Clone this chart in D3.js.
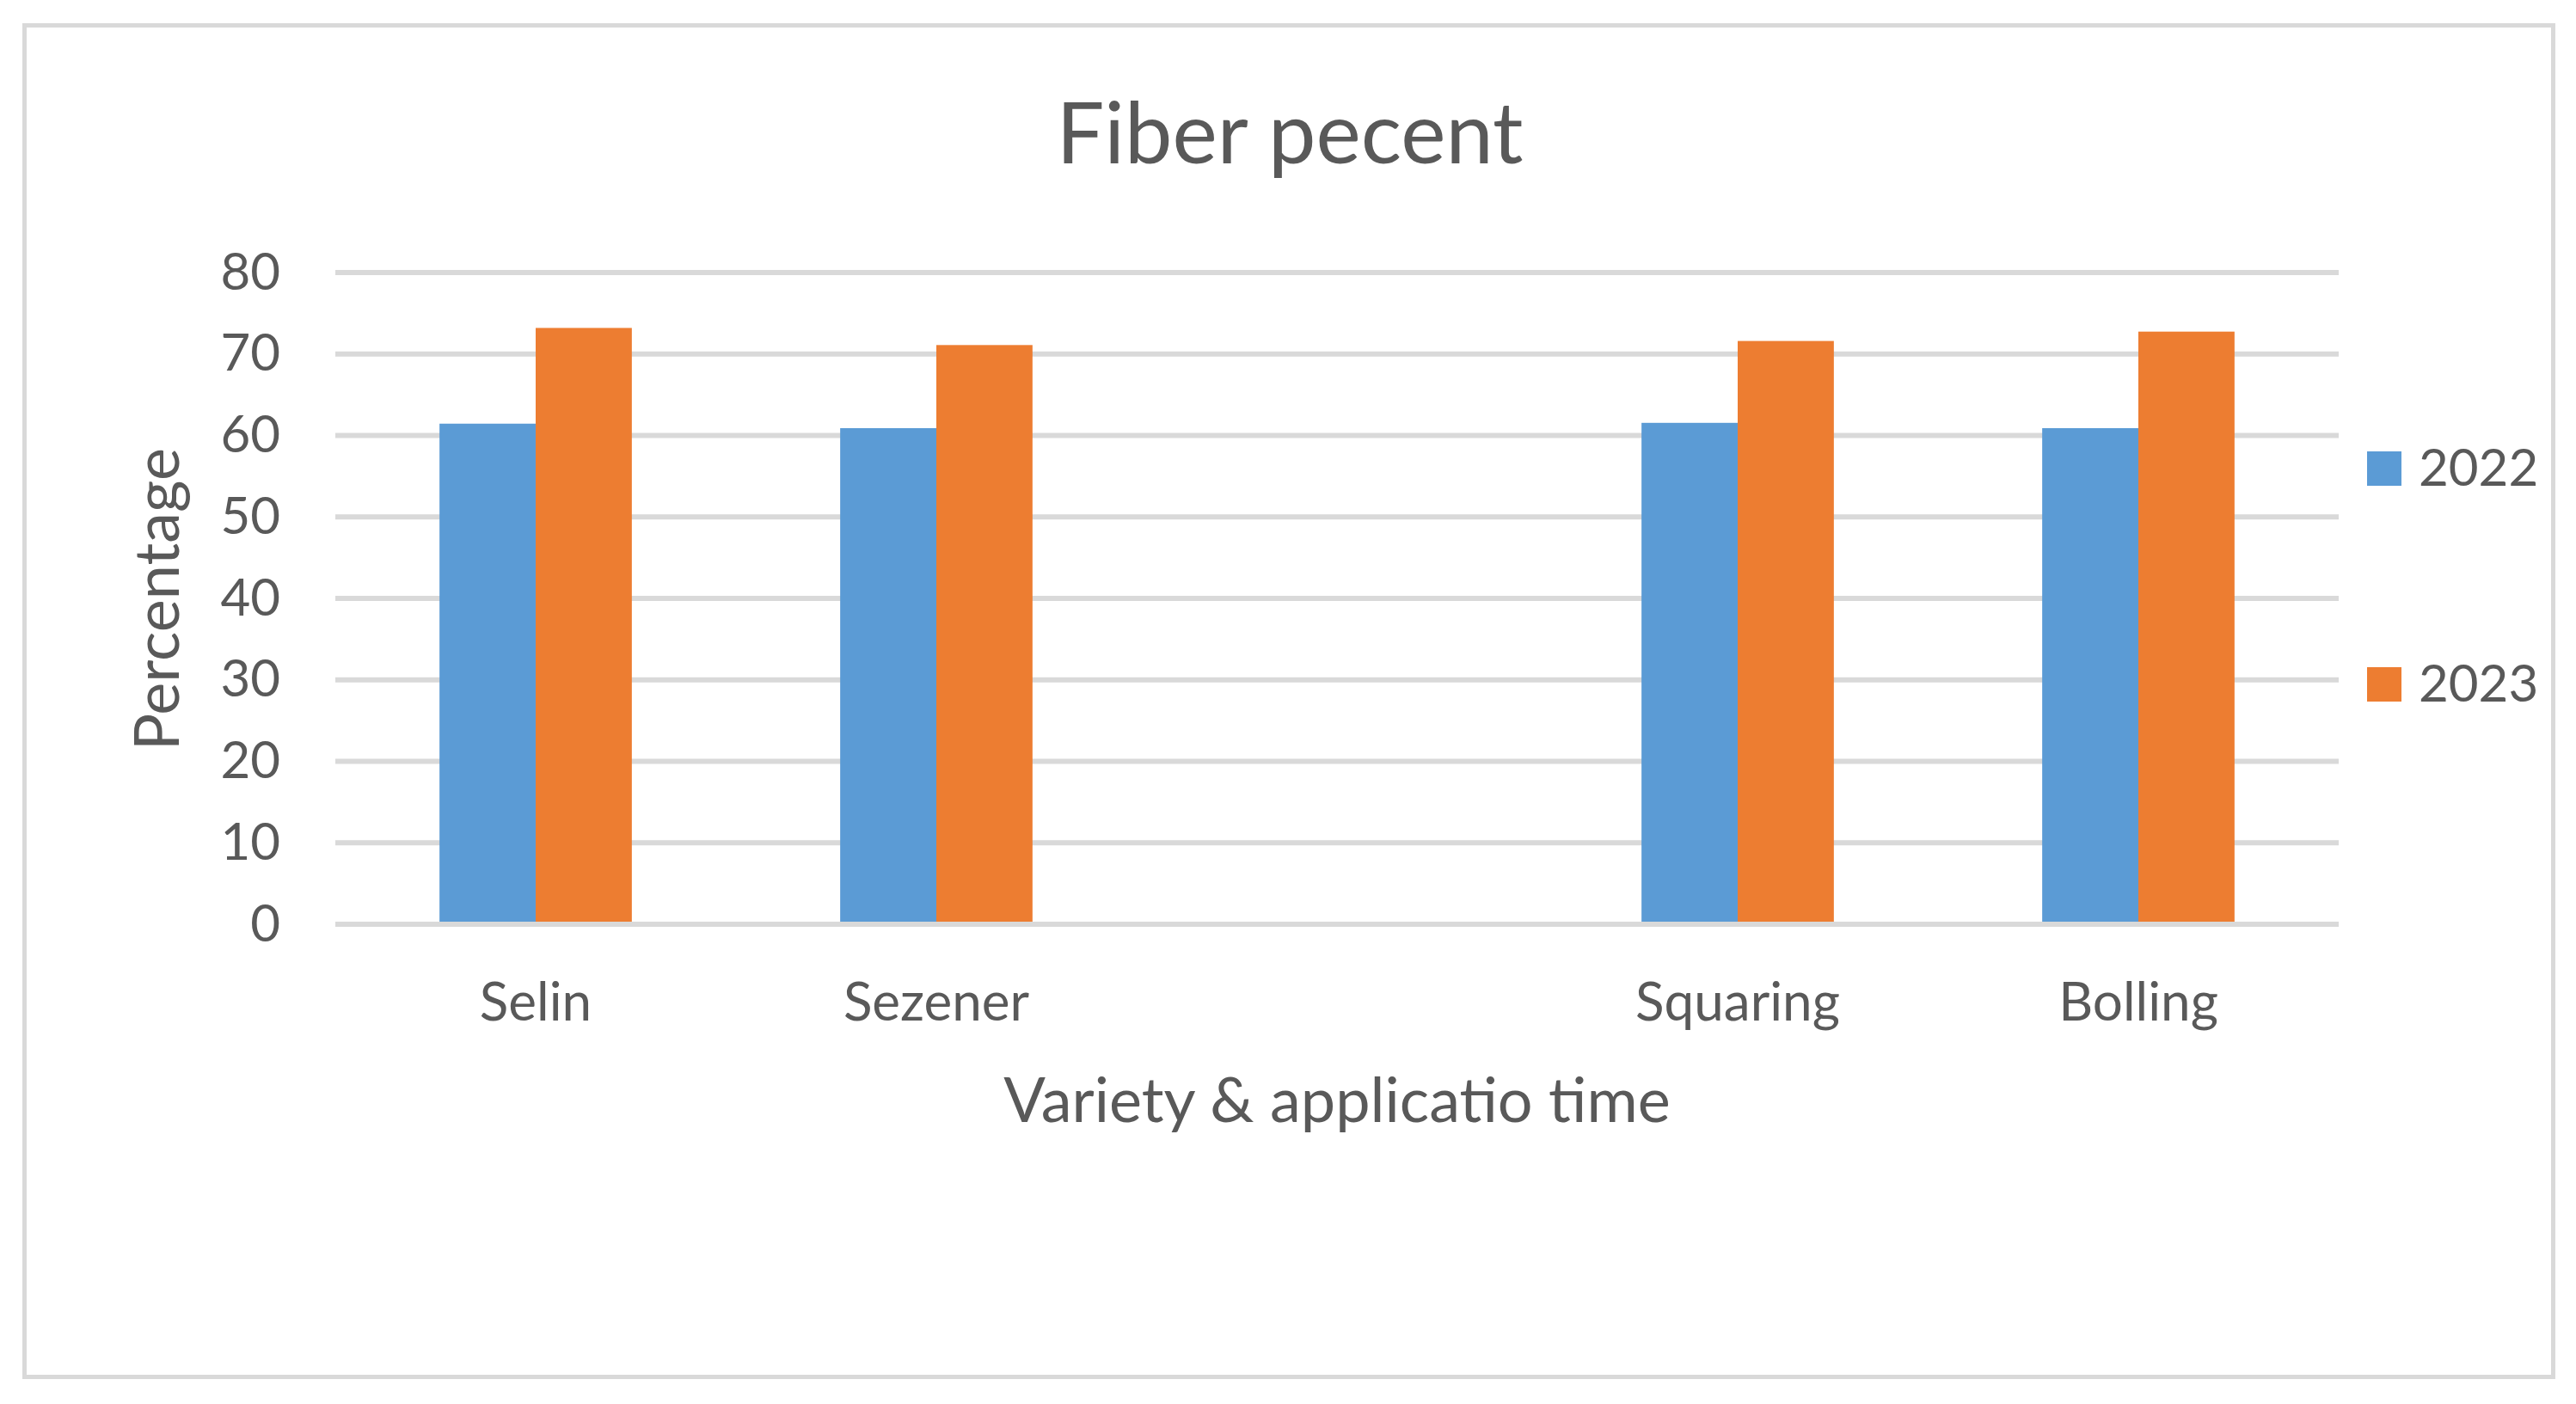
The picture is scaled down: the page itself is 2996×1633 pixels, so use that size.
<!DOCTYPE html>
<html>
<head>
<meta charset="utf-8">
<script src="https://cdn.jsdelivr.net/npm/d3@7"></script>
<style>
  html, body { margin: 0; padding: 0; background: #ffffff; }
  svg { display: block; }
  text { font-family: Lato, "Open Sans", sans-serif; fill: #595959; }
</style>
</head>
<body>
<svg id="chart" width="2996" height="1633"></svg>
<script>
// ---- data ----
const categories = ["Selin", "Sezener", " ", "Squaring", "Bolling"];
const seriesNames = ["2022", "2023"];
const values2022 = [61.45, 60.9, null, 61.55, 60.9];
const values2023 = [73.2, 71.1, null, 71.6, 72.75];
const yTicks = [0, 10, 20, 30, 40, 50, 60, 70, 80];
const colors = ["#5B9BD5", "#ED7D31"];
const titleText = "Fiber pecent";
const xTitleText = "Variety & applicatio time";
const yTitleText = "Percentage";

const rows = categories.map((c, i) => ({ cat: c, vals: [values2022[i], values2023[i]] }));

// ---- layout ----
const W = 2996, H = 1633;
const plot = { left: 390, right: 2720, top: 317, bottom: 1075 };
const svg = d3.select("#chart");

svg.append("rect").attr("x", 0).attr("y", 0).attr("width", W).attr("height", H).attr("fill", "#ffffff");
svg.append("rect")
  .attr("x", 28.5).attr("y", 29.5).attr("width", 2941).attr("height", 1572)
  .attr("fill", "#ffffff").attr("stroke", "#D9D9D9").attr("stroke-width", 5);

const x = d3.scaleBand().domain(categories).range([plot.left, plot.right]).paddingInner(0).paddingOuter(0);
const groupWidth = x.bandwidth() * 0.48;
const xs = d3.scaleBand().domain(seriesNames).range([-groupWidth / 2, groupWidth / 2]).padding(0);
const y = d3.scaleLinear().domain([0, 80]).range([plot.bottom, plot.top]);

// gridlines
svg.append("g").selectAll("line").data(yTicks.filter(t => t !== 0)).join("line")
  .attr("x1", plot.left).attr("x2", plot.right)
  .attr("y1", d => y(d)).attr("y2", d => y(d))
  .attr("stroke", "#D9D9D9").attr("stroke-width", 6);

// bars
const groups = svg.append("g").selectAll("g").data(rows).join("g")
  .attr("transform", d => `translate(${x(d.cat) + x.bandwidth() / 2},0)`);
groups.selectAll("rect")
  .data(d => d.vals.map((v, i) => ({ v, s: seriesNames[i], i })).filter(e => e.v !== null))
  .join("rect")
  .attr("x", e => xs(e.s))
  .attr("width", xs.bandwidth())
  .attr("y", e => y(e.v))
  .attr("height", e => y(0) - y(e.v))
  .attr("fill", e => colors[e.i]);

// zero axis line on top
svg.append("line")
  .attr("x1", plot.left).attr("x2", plot.right)
  .attr("y1", y(0)).attr("y2", y(0))
  .attr("stroke", "#D9D9D9").attr("stroke-width", 6);

// y axis labels
const yAxis = svg.append("g").attr("transform", `translate(${plot.left},0)`)
  .call(d3.axisLeft(y).tickValues(yTicks).tickSize(0).tickPadding(64).tickFormat(d3.format("d")));
yAxis.select(".domain").remove();
yAxis.selectAll("text").attr("font-size", 60).attr("font-family", "Lato, 'Open Sans', sans-serif").attr("fill", "#595959");

// x axis labels
const xAxis = svg.append("g").attr("transform", `translate(0,${plot.bottom})`)
  .call(d3.axisBottom(x).tickSize(0).tickPadding(68));
xAxis.select(".domain").remove();
xAxis.selectAll("text").attr("font-size", 62).attr("font-family", "Lato, 'Open Sans', sans-serif").attr("fill", "#595959");

// titles
svg.append("text").attr("x", 1500).attr("y", 190).attr("text-anchor", "middle")
  .attr("font-size", 99).text(titleText);
svg.append("text").attr("x", (plot.left + plot.right) / 2).attr("y", 1305).attr("text-anchor", "middle")
  .attr("font-size", 72).text(xTitleText);
svg.append("text").attr("transform", "translate(208,697) rotate(-90)").attr("text-anchor", "middle")
  .attr("font-size", 72).text(yTitleText);

// legend
const legend = svg.append("g").selectAll("g").data(seriesNames).join("g")
  .attr("transform", (d, i) => `translate(2753,${525 + i * 251})`);
legend.append("rect").attr("width", 40).attr("height", 40).attr("fill", (d, i) => colors[i]);
legend.append("text").attr("x", 60).attr("y", 40).attr("font-size", 60).text(d => d);
</script>
</body>
</html>
